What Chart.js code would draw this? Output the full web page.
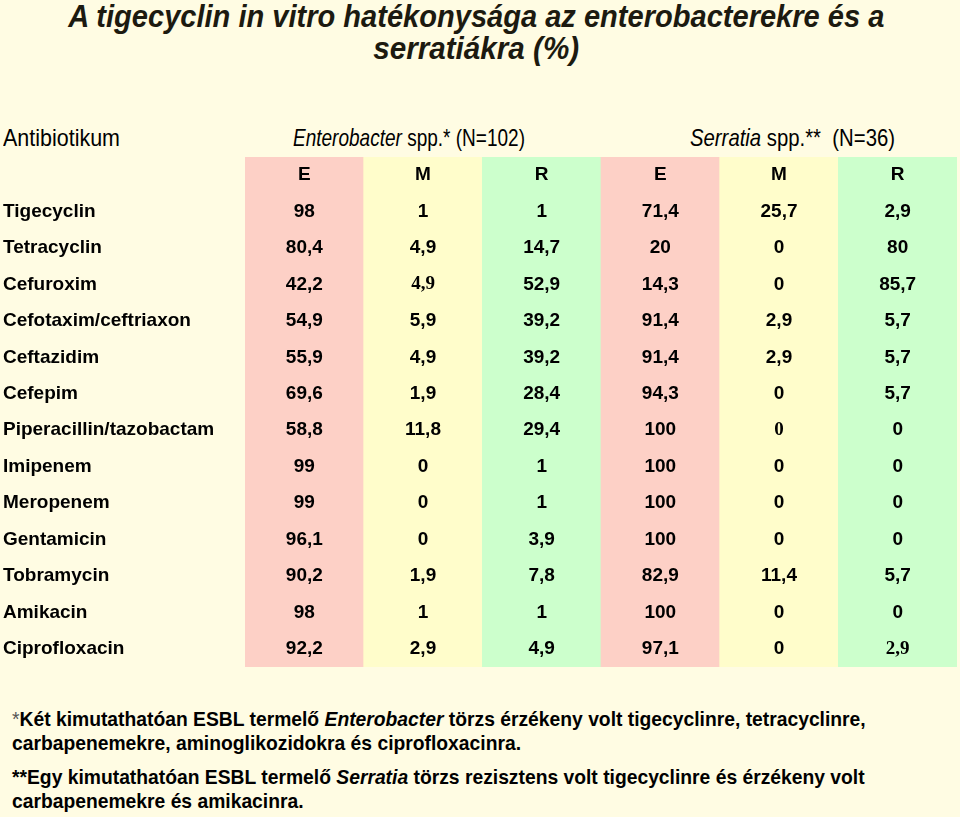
<!DOCTYPE html>
<html><head><meta charset="utf-8">
<script src="https://cdn.jsdelivr.net/npm/chart.js@4/dist/chart.umd.min.js"></script>
<style>
html,body{margin:0;padding:0;}
body{width:960px;height:817px;background:#FFFCE3;position:relative;overflow:hidden;font-family:"Liberation Sans",Arial,sans-serif;color:#000;}
.abs{position:absolute;white-space:nowrap;}
.fit{display:inline-block;white-space:nowrap;}
#title{left:0;width:952px;top:0px;text-align:center;font-family:"Liberation Sans Narrow","Arial Narrow","Liberation Sans",sans-serif;font-weight:bold;font-style:italic;font-size:32px;line-height:32px;color:#1c1a10;}
#title .fit{transform-origin:50% 50%;}
.hdr{font-family:"Liberation Sans Narrow","Arial Narrow","Liberation Sans",sans-serif;font-size:24px;line-height:24px;top:126px;}
.hdr .fit{transform-origin:0 50%;}
.note{left:12px;font-weight:bold;font-size:19.3px;line-height:24px;}
.star{font-weight:normal;color:#555;}
#wrap{position:absolute;left:0;top:157px;width:960px;height:510px;}
</style></head>
<body>
<div id="title" class="abs">
  <div><span class="fit" data-w="816">A tigecyclin in vitro hatékonysága az enterobacterekre és a</span></div>
  <div><span class="fit" data-w="206">serratiákra (%)</span></div>
</div>
<div class="abs hdr" style="left:3px"><span class="fit" data-w="117">Antibiotikum</span></div>
<div class="abs hdr" style="left:293px"><span class="fit" data-w="232"><i>Enterobacter</i> spp.* (N=102)</span></div>
<div class="abs hdr" style="left:690px"><span class="fit" data-w="205"><i>Serratia</i> spp.**&nbsp;&nbsp;(N=36)</span></div>
<div id="wrap"><canvas id="c" width="960" height="510"></canvas></div>
<div class="abs note" style="top:708px"><span class="star">*</span>Két kimutathatóan ESBL termelő <i>Enterobacter</i> törzs érzékeny volt tigecyclinre, tetracyclinre,<br>carbapenemekre, aminoglikozidokra és ciprofloxacinra.</div>
<div class="abs note" style="top:766px">**Egy kimutathatóan ESBL termelő <i>Serratia</i> törzs rezisztens volt tigecyclinre és érzékeny volt<br>carbapenemekre és amikacinra.</div>
<script>
// ---- data ----
const antibiotics = ['Tigecyclin','Tetracyclin','Cefuroxim','Cefotaxim/ceftriaxon','Ceftazidim','Cefepim','Piperacillin/tazobactam','Imipenem','Meropenem','Gentamicin','Tobramycin','Amikacin','Ciprofloxacin'];
const columns = ['E','M','R','E','M','R'];
const enterobacterE = [98, 80.4, 42.2, 54.9, 55.9, 69.6, 58.8, 99, 99, 96.1, 90.2, 98, 92.2];
const enterobacterM = [1, 4.9, 4.9, 5.9, 4.9, 1.9, 11.8, 0, 0, 0, 1.9, 1, 2.9];
const enterobacterR = [1, 14.7, 52.9, 39.2, 39.2, 28.4, 29.4, 1, 1, 3.9, 7.8, 1, 4.9];
const serratiaE = [71.4, 20, 14.3, 91.4, 91.4, 94.3, 100, 100, 100, 100, 82.9, 100, 97.1];
const serratiaM = [25.7, 0, 0, 2.9, 2.9, 0, 0, 0, 0, 0, 11.4, 0, 0];
const serratiaR = [2.9, 80, 85.7, 5.7, 5.7, 5.7, 0, 0, 0, 0, 5.7, 0, 2.9];
const seriesValues = [enterobacterE, enterobacterM, enterobacterR, serratiaE, serratiaM, serratiaR];
// cells that the original shows in a serif face: [row, column]
const serifCells = [[2,1],[6,4],[12,5]];

// ---- styles ----
const colColors = ['#FDD0C6','#FFFDCB','#CCFFCC','#FDD0C6','#FFFDCB','#CCFFCC'];
const rowLabels = [''].concat(antibiotics);
const nRows = rowLabels.length;
const fmt = v => String(v).replace('.', ',');
const SANS = '"Liberation Sans", Arial, sans-serif';
const SERIF = '"Liberation Serif", "Times New Roman", serif';

const cellText = {
  id: 'cellText',
  afterDatasetsDraw(chart) {
    const {ctx, scales: {x, yl}} = chart;
    ctx.save();
    ctx.textAlign = 'center';
    ctx.textBaseline = 'middle';
    ctx.fillStyle = '#000';
    columns.forEach((c, j) => {
      const px = x.getPixelForValue(j);
      ctx.font = 'bold 19px ' + SANS;
      ctx.fillText(c, px, yl.getPixelForValue(0));
      seriesValues[j].forEach((v, i) => {
        const serif = serifCells.some(s => s[0] === i && s[1] === j);
        ctx.font = 'bold 19px ' + (serif ? SERIF : SANS);
        ctx.fillText(fmt(v), px, yl.getPixelForValue(i + 1));
      });
    });
    ctx.restore();
  }
};

new Chart(document.getElementById('c'), {
  type: 'bar',
  data: {
    labels: columns,
    datasets: [{
      data: columns.map(() => [0, nRows]),
      backgroundColor: colColors,
      borderWidth: 0,
      barPercentage: 1,
      categoryPercentage: 1,
      yAxisID: 'yv'
    }]
  },
  options: {
    responsive: false,
    animation: false,
    devicePixelRatio: 1,
    layout: {padding: {left: 3, right: 3, top: 0, bottom: 0}},
    plugins: {legend: {display: false}, tooltip: {enabled: false}, title: {display: false}},
    scales: {
      x: {display: false, offset: true},
      yv: {type: 'linear', display: false, min: 0, max: nRows, reverse: true},
      yl: {
        type: 'category', labels: rowLabels, position: 'left', offset: true,
        grid: {display: false, drawTicks: false}, border: {display: false},
        ticks: {crossAlign: 'far', padding: 0, autoSkip: false, color: '#000',
                font: {family: SANS, size: 19, weight: 'bold'}},
        afterFit: s => { s.width = 242; s.paddingTop = 0; s.paddingBottom = 0; }
      }
    }
  },
  plugins: [cellText]
});

function fitAll() {
  document.querySelectorAll('.fit[data-w]').forEach(el => {
    el.style.transform = 'none';
    const w = el.getBoundingClientRect().width;
    el.style.transform = 'scaleX(' + (+el.dataset.w / w) + ')';
  });
}
fitAll();
if (document.fonts && document.fonts.ready) document.fonts.ready.then(fitAll);
</script>
</body></html>
